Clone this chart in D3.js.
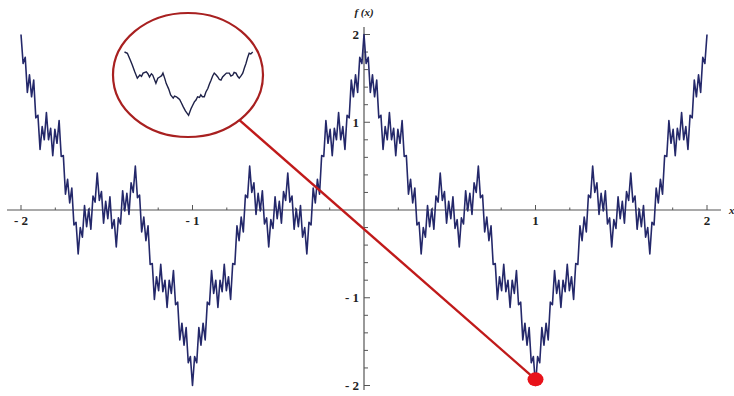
<!DOCTYPE html>
<html>
<head>
<meta charset="utf-8">
<script src="https://cdn.jsdelivr.net/npm/d3@7"></script>
<style>
  html, body { margin: 0; padding: 0; background: #ffffff; }
  svg { display: block; }
  .lbl { font-family: "Liberation Serif", "Times New Roman", serif; font-weight: bold; font-size: 13px; fill: #222; }
</style>
</head>
<body>
<svg id="chart" width="734" height="396"></svg>
<script>
// Sampling grid of the curve: one value every 1/81 from x = -2 to x = 2
const xStart = -2;
const xStep = 1 / 81;

// f(x) values along the grid
const fValues = [
  2.00,1.67,1.74,1.34,1.54,1.29,1.48,1.05,1.08,0.69,
  0.95,0.80,1.11,0.80,0.93,0.62,0.92,0.76,1.02,0.61,
  0.62,0.18,0.35,0.08,0.25,-0.17,-0.14,-0.50,-0.20,-0.31,
  0.05,-0.19,0.01,-0.22,0.16,0.09,0.42,0.11,0.21,-0.15,
  0.10,-0.10,0.15,-0.21,-0.11,-0.42,-0.09,-0.16,0.22,-0.01,
  0.19,-0.05,0.31,0.20,0.50,0.14,0.17,-0.25,-0.08,-0.35,
  -0.18,-0.62,-0.61,-1.02,-0.76,-0.92,-0.62,-0.93,-0.80,-1.11,
  -0.80,-0.95,-0.69,-1.08,-1.05,-1.48,-1.29,-1.54,-1.34,-1.74,
  -1.67,-2.00,
  -1.67,-1.74,-1.34,-1.54,-1.29,-1.48,-1.05,-1.08,-0.69,-0.95,
  -0.80,-1.11,-0.80,-0.93,-0.62,-0.92,-0.76,-1.02,-0.61,-0.62,
  -0.18,-0.35,-0.08,-0.25,0.17,0.14,0.50,0.20,0.31,-0.05,
  0.19,-0.01,0.22,-0.16,-0.09,-0.42,-0.11,-0.21,0.15,-0.10,
  0.10,-0.15,0.21,0.11,0.42,0.09,0.16,-0.22,0.01,-0.19,
  0.05,-0.31,-0.20,-0.50,-0.14,-0.17,0.25,0.08,0.35,0.18,
  0.62,0.61,1.02,0.76,0.92,0.62,0.93,0.80,1.11,0.80,
  0.95,0.69,1.08,1.05,1.48,1.29,1.54,1.34,1.74,1.67,
  2.00,
  1.67,1.74,1.34,1.54,1.29,1.48,1.05,1.08,0.69,
  0.95,0.80,1.11,0.80,0.93,0.62,0.92,0.76,1.02,0.61,
  0.62,0.18,0.35,0.08,0.25,-0.17,-0.14,-0.50,-0.20,-0.31,
  0.05,-0.19,0.01,-0.22,0.16,0.09,0.42,0.11,0.21,-0.15,
  0.10,-0.10,0.15,-0.21,-0.11,-0.42,-0.09,-0.16,0.22,-0.01,
  0.19,-0.05,0.31,0.20,0.50,0.14,0.17,-0.25,-0.08,-0.35,
  -0.18,-0.62,-0.61,-1.02,-0.76,-0.92,-0.62,-0.93,-0.80,-1.11,
  -0.80,-0.95,-0.69,-1.08,-1.05,-1.48,-1.29,-1.54,-1.34,-1.74,
  -1.67,-2.00,
  -1.67,-1.74,-1.34,-1.54,-1.29,-1.48,-1.05,-1.08,-0.69,-0.95,
  -0.80,-1.11,-0.80,-0.93,-0.62,-0.92,-0.76,-1.02,-0.61,-0.62,
  -0.18,-0.35,-0.08,-0.25,0.17,0.14,0.50,0.20,0.31,-0.05,
  0.19,-0.01,0.22,-0.16,-0.09,-0.42,-0.11,-0.21,0.15,-0.10,
  0.10,-0.15,0.21,0.11,0.42,0.09,0.16,-0.22,0.01,-0.19,
  0.05,-0.31,-0.20,-0.50,-0.14,-0.17,0.25,0.08,0.35,0.18,
  0.62,0.61,1.02,0.76,0.92,0.62,0.93,0.80,1.11,0.80,
  0.95,0.69,1.08,1.05,1.48,1.29,1.54,1.34,1.74,1.67,
  2.00
];

// Magnified view around the minimum: offset t and value v
const insetT = [
  -1.00,-0.955,-0.91,-0.88,-0.84,-0.80,-0.76,-0.735,-0.71,-0.66,
  -0.635,-0.61,-0.58,-0.56,-0.51,-0.48,-0.45,-0.42,-0.40,-0.37,
  -0.35,-0.31,-0.28,-0.24,-0.22,-0.19,-0.165,-0.14,-0.11,-0.087,
  -0.05,0.00,0.04,0.06,0.09,0.115,0.14,0.17,0.19,0.215,
  0.245,0.27,0.30,0.325,0.35,0.375,0.40,0.43,0.455,0.48,
  0.505,0.53,0.56,0.59,0.635,0.66,0.69,0.71,0.74,0.765,
  0.79,0.82,0.845,0.87,0.895,0.92,0.945,0.97,1.00
];
const insetV = [
  -1.00,-1.02,-1.125,-1.20,-1.31,-1.41,-1.36,-1.38,-1.33,-1.31,
  -1.34,-1.39,-1.34,-1.36,-1.49,-1.41,-1.39,-1.37,-1.33,-1.42,
  -1.49,-1.58,-1.67,-1.72,-1.69,-1.70,-1.72,-1.74,-1.80,-1.85,
  -1.92,-1.99,-1.88,-1.84,-1.78,-1.75,-1.70,-1.71,-1.67,-1.70,
  -1.70,-1.625,-1.57,-1.50,-1.44,-1.375,-1.33,-1.36,-1.39,-1.43,
  -1.44,-1.39,-1.36,-1.33,-1.33,-1.375,-1.36,-1.32,-1.33,-1.38,
  -1.41,-1.37,-1.33,-1.25,-1.18,-1.09,-1.02,-1.03,-1.00
];

// Axis ticks
const xMajorTicks = [-2, -1, 1, 2];
const yMajorTicks = [-2, -1, 1, 2];
const minorStep = 0.2;

// Marked point on the curve (the minimum)
const markX = 1;
const markY = -1.93;

const svg = d3.select("#chart");

const x = d3.scaleLinear().domain([-2, 2]).range([21, 707]);
const y = d3.scaleLinear().domain([-2, 2]).range([385.5, 34.5]);

const fmt = v => (v < 0 ? "- " + Math.abs(v) : String(v));

// ---- axes ----
const axisG = svg.append("g");

// horizontal axis line
axisG.append("line")
  .attr("x1", 7).attr("x2", 721)
  .attr("y1", y(0)).attr("y2", y(0))
  .attr("stroke", "#8c8c8c").attr("stroke-width", 1.4);

// vertical axis line
axisG.append("line")
  .attr("x1", x(0)).attr("x2", x(0))
  .attr("y1", 27).attr("y2", 390)
  .attr("stroke", "#555").attr("stroke-width", 1.2);

const xMinor = d3.range(-2, 2.0001, minorStep).filter(v => Math.abs(v) > 1e-9);
axisG.selectAll(".xtick").data(xMinor).join("line")
  .attr("x1", d => x(d)).attr("x2", d => x(d))
  .attr("y1", y(0))
  .attr("y2", d => y(0) - (xMajorTicks.some(m => Math.abs(m - d) < 1e-6) ? 5 : 2.5))
  .attr("stroke", "#555").attr("stroke-width", 1);

const yMinor = d3.range(-2, 2.0001, minorStep).filter(v => Math.abs(v) > 1e-9);
axisG.selectAll(".ytick").data(yMinor).join("line")
  .attr("y1", d => y(d)).attr("y2", d => y(d))
  .attr("x1", x(0))
  .attr("x2", d => x(0) + (yMajorTicks.some(m => Math.abs(m - d) < 1e-6) ? 6 : 4))
  .attr("stroke", "#555").attr("stroke-width", 1);

axisG.selectAll(".xlabel").data(xMajorTicks).join("text")
  .attr("class", "lbl")
  .attr("x", d => x(d)).attr("y", y(0) + 15)
  .attr("text-anchor", "middle")
  .text(fmt);

axisG.selectAll(".ylabel").data(yMajorTicks).join("text")
  .attr("class", "lbl")
  .attr("x", x(0) - 5).attr("y", d => y(d) + 4.5)
  .attr("text-anchor", "end")
  .text(fmt);

axisG.append("text")
  .attr("x", x(0)).attr("y", 16)
  .attr("text-anchor", "middle")
  .attr("font-family", "Liberation Serif, serif")
  .attr("font-style", "italic").attr("font-weight", "bold")
  .attr("font-size", 11).attr("fill", "#222")
  .text("f (x)");

axisG.append("text")
  .attr("x", 729).attr("y", y(0) + 4)
  .attr("font-family", "Liberation Serif, serif")
  .attr("font-style", "italic").attr("font-weight", "bold")
  .attr("font-size", 11).attr("fill", "#222")
  .text("x");

// ---- main curve ----
const pts = fValues.map((v, i) => [xStart + i * xStep, v]);
svg.append("path")
  .datum(pts)
  .attr("fill", "none")
  .attr("stroke", "#24286a")
  .attr("stroke-width", 1.6)
  .attr("stroke-linejoin", "round")
  .attr("d", d3.line().x(d => x(d[0])).y(d => y(d[1])));

// ---- magnifier ----
const lens = { cx: 188, cy: 75, rx: 75, ry: 62 };
const ix = d3.scaleLinear().domain([-1, 1]).range([124.5, 252.7]);
const iy = d3.scaleLinear().domain([-2, -1]).range([116, 52]);

// connector from the lens rim to the marked point
const px = x(markX), py = y(markY);
const ang = Math.atan2((py - lens.cy) / lens.ry, (px - lens.cx) / lens.rx);
const rimX = lens.cx + lens.rx * Math.cos(ang);
const rimY = lens.cy + lens.ry * Math.sin(ang);

svg.append("line")
  .attr("x1", rimX).attr("y1", rimY)
  .attr("x2", px).attr("y2", py)
  .attr("stroke", "#c01a1a").attr("stroke-width", 2.4);

svg.append("ellipse")
  .attr("cx", lens.cx).attr("cy", lens.cy)
  .attr("rx", lens.rx).attr("ry", lens.ry)
  .attr("fill", "none")
  .attr("stroke", "#a82020").attr("stroke-width", 2.2);

svg.append("path")
  .datum(insetT.map((t, i) => [t, insetV[i]]))
  .attr("fill", "none")
  .attr("stroke", "#1e2148")
  .attr("stroke-width", 1.4)
  .attr("d", d3.line().x(d => ix(d[0])).y(d => iy(d[1])));

svg.append("ellipse")
  .attr("cx", px).attr("cy", py)
  .attr("rx", 8).attr("ry", 7)
  .attr("fill", "#e8121a");
</script>
</body>
</html>
